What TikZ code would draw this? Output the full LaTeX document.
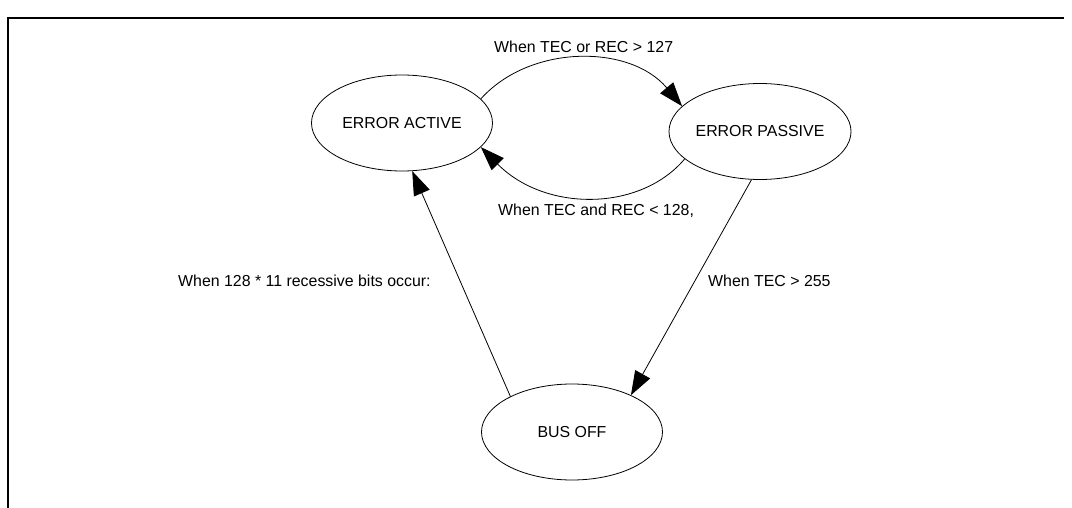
\documentclass[tikz,border=0pt]{standalone}
\usepackage{fontspec}
\setmainfont{Liberation Sans}
\usetikzlibrary{shapes.geometric,arrows.meta}
\begin{document}
\begin{tikzpicture}[x=1pt,y=-1pt,
  state/.style={draw,ellipse,line width=0.8pt,minimum width=181pt,minimum height=96pt,inner sep=0pt,font=\fontsize{15.9}{18}\selectfont},
  lbl/.style={inner sep=0pt,anchor=west,font=\fontsize{15.9}{18}\selectfont},
  conn/.style={line width=0.8pt,-{Triangle[length=24pt,width=17pt]}},
  frame/.style={line width=1.3pt}]
\useasboundingbox (0,0) rectangle (1072,508);
\coordinate (fl) at (8,508);
\coordinate (fc) at (8,18);
\coordinate (fr) at (1064,18);
\draw[frame] (fl) -- (fc) -- (fr);
\node[state] (ea) at (402,123) {ERROR ACTIVE};
\node[state] (ep) at (760,131.5) {ERROR PASSIVE};
\node[state] (bo) at (572,432) {BUS OFF};
\draw[conn] (ea.17) .. controls (530,44) and (630,44) .. (ep.162);
\draw[conn] (ep.200) .. controls (640,212) and (545,212) .. (ea.-17);
\draw[conn] (bo.150) -- (ea.-78);
\draw[conn] (ep.-100) -- (bo.32);
\node[lbl] (l1) at (494,47) {When TEC or REC > 127};
\node[lbl] (l2) at (498,211) {When TEC and REC < 128,};
\node[lbl] (l3) at (178,281) {When 128 * 11 recessive bits occur:};
\node[lbl] (l4) at (708,281) {When TEC > 255};
\end{tikzpicture}
\end{document}
